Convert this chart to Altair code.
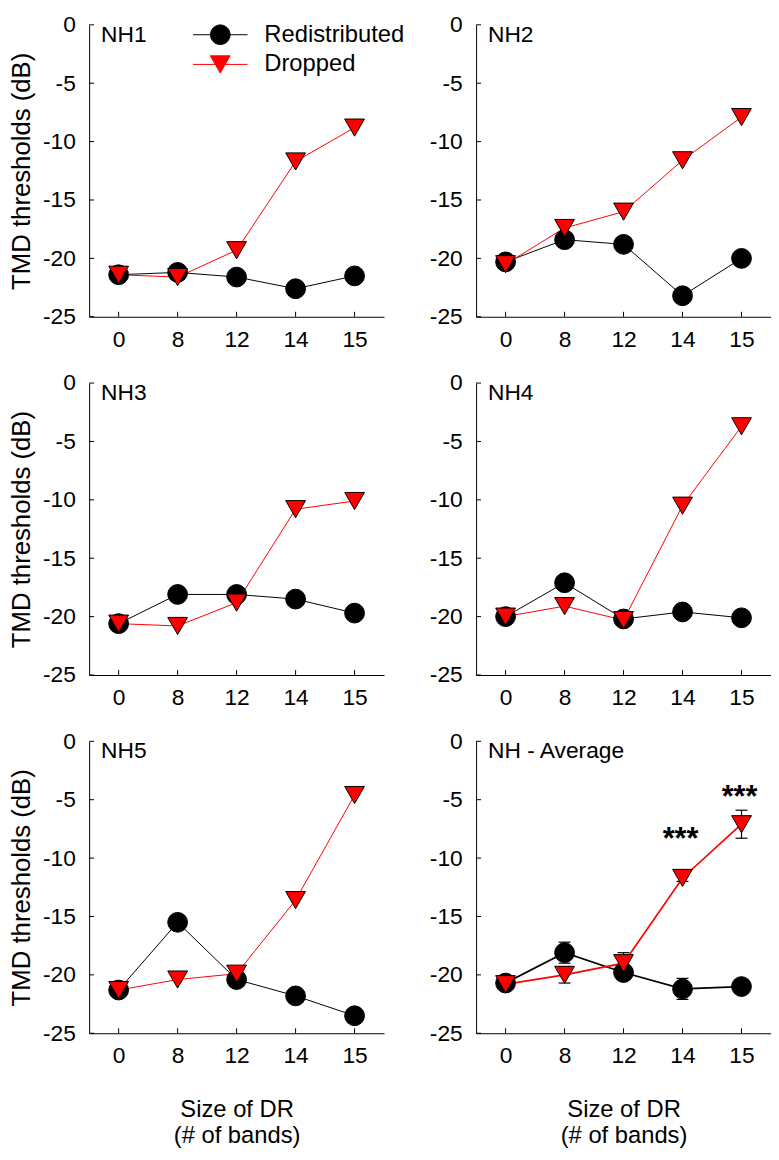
import altair as alt
import pandas as pd

FONT = "Liberation Sans"

bands = ["0", "8", "12", "14", "15"]
series_names = ["Redistributed", "Dropped"]
series_colors = ["black", "#ff0000"]
series_shapes = ["circle", "triangle-down"]
panel_names = ["NH1", "NH2", "NH3", "NH4", "NH5", "NH - Average"]
y_ticks = [0, -5, -10, -15, -20, -25]

nh1_redistributed = [-21.4, -21.2, -21.6, -22.6, -21.5]
nh1_dropped = [-21.4, -21.6, -19.3, -11.7, -8.8]
nh2_redistributed = [-20.3, -18.4, -18.8, -23.2, -20.0]
nh2_dropped = [-20.5, -17.4, -16.0, -11.6, -7.9]
nh3_redistributed = [-20.6, -18.1, -18.1, -18.5, -19.7]
nh3_dropped = [-20.6, -20.8, -18.8, -10.8, -10.1]
nh4_redistributed = [-20.0, -17.1, -20.2, -19.6, -20.1]
nh4_dropped = [-20.0, -19.1, -20.3, -10.5, -3.7]
nh5_redistributed = [-21.3, -15.5, -20.4, -21.8, -23.5]
nh5_dropped = [-21.3, -20.4, -19.9, -13.6, -4.6]
avg_redistributed = [-20.7, -18.1, -19.8, -21.2, -21.0]
avg_dropped = [-20.8, -20.0, -19.0, -11.7, -7.1]
avg_redistributed_err = [0.3, 0.9, 0.5, 0.9, 0.3]
avg_dropped_err = [0.3, 0.7, 0.9, 0.3, 1.2]

sig_bands = ["14", "15"]
sig_values = [-7.6, -4.0]
sig_text = ["***", "***"]

W, H = 298, 295
TICK_FS = 23

# legend symbols: a line segment with the series marker on it (unit path, scaled by Vega)
LEGEND_SHAPES = [
    "M-2.5,0H2.5M0.9,0A0.9,0.9 0 1 1 -0.9,0A0.9,0.9 0 1 1 0.9,0Z",
    "M-2.5,0H2.5M-0.91,-0.79L0.91,-0.79L0,0.79Z",
]


def make_panel(name, redis, drop, left, bottom, legend=False,
               redis_err=None, drop_err=None, sig=False):
    rows = []
    for s, vals, errs in ((series_names[0], redis, redis_err),
                          (series_names[1], drop, drop_err)):
        for i, b in enumerate(bands):
            row = {"band": b, "idx": i, "series": s, "value": vals[i]}
            if errs is not None:
                row["lo"] = vals[i] - errs[i]
                row["hi"] = vals[i] + errs[i]
            rows.append(row)
    df = pd.DataFrame(rows)
    is_avg = redis_err is not None
    lw = 1.7 if is_avg else 1.0

    xaxis = alt.Axis(
        title=["Size of DR", "(# of bands)"] if bottom else None,
        labelAngle=0, ticks=False, tickSize=0, labelPadding=12,
        titlePadding=30, titleLineHeight=26, titleFontSize=24,
        grid=False,
    )
    yaxis = alt.Axis(
        title="TMD thresholds (dB)" if left else None,
        values=y_ticks, labelExpr="'' + datum.value",
        ticks=False, tickSize=0, labelPadding=14,
        titlePadding=8, titleFontSize=26, grid=False,
    )
    xscale = alt.Scale(type="point", domain=bands, padding=0.5)
    yscale = alt.Scale(domain=[-25, 0], nice=False, zero=False)

    def X(field="band"):
        return alt.X(f"{field}:N", scale=xscale, axis=xaxis)

    def Y(field="value"):
        return alt.Y(f"{field}:Q", scale=yscale, axis=yaxis)

    base = alt.Chart(df)

    layers = []
    # inward ticks
    layers.append(
        alt.Chart(pd.DataFrame({"tick": y_ticks})).mark_rule(color="black", strokeWidth=1)
        .encode(y=Y("tick"), x=alt.value(0), x2=alt.value(5))
    )
    layers.append(
        alt.Chart(pd.DataFrame({"band": bands})).mark_rule(color="black", strokeWidth=1)
        .encode(x=X("band"), y=alt.value(H), y2=alt.value(H - 5))
    )
    # lines, one per series
    for s, c in zip(series_names, series_colors):
        layers.append(
            base.transform_filter(alt.datum.series == s)
            .mark_line(strokeWidth=lw, color=c)
            .encode(x=X(), y=Y(), order=alt.Order("idx:Q"))
        )
    if is_avg:
        layers.append(
            base.mark_rule(color="black", strokeWidth=1.2)
            .encode(x=X(), y=Y("lo"), y2="hi:Q")
        )
        for f in ("lo", "hi"):
            layers.append(
                base.mark_tick(color="black", thickness=1.2, size=12, opacity=1)
                .encode(x=X(), y=Y(f))
            )
    # markers, one layer per series
    for s, c, shp in zip(series_names, series_colors, series_shapes):
        layers.append(
            base.transform_filter(alt.datum.series == s)
            .mark_point(shape=shp, filled=True, size=400, fill=c,
                        stroke="black", strokeWidth=1, opacity=1)
            .encode(x=X(), y=Y())
        )
    if legend:
        leg = alt.Legend(
            orient="none", legendX=120.5, legendY=-2, title=None,
            symbolSize=484, symbolStrokeWidth=1, symbolOpacity=1,
            labelFont=FONT, labelFontSize=24, labelColor="black",
            labelOffset=32.5, rowPadding=6, padding=0,
        )
        # invisible layer that only feeds the legend
        layers.append(
            base.mark_point(filled=True, size=484, opacity=0, strokeWidth=1)
            .encode(
                x=X(), y=Y(),
                fill=alt.Fill("series:N", scale=alt.Scale(domain=series_names, range=series_colors), legend=leg),
                stroke=alt.Stroke("series:N", scale=alt.Scale(domain=series_names, range=series_colors), legend=leg),
                shape=alt.Shape("series:N", scale=alt.Scale(domain=series_names, range=LEGEND_SHAPES), legend=leg),
            )
        )
    layers.append(
        alt.Chart(pd.DataFrame({"label": [name]}))
        .mark_text(align="left", baseline="top", font=FONT, fontSize=23, color="black")
        .encode(x=alt.value(12), y=alt.value(-1), text="label:N")
    )
    if sig:
        sig_df = pd.DataFrame({"band": sig_bands, "y": sig_values, "text": sig_text})
        layers.append(
            alt.Chart(sig_df)
            .mark_text(align="center", baseline="middle", font=FONT, fontSize=31,
                       fontWeight="bold", color="black", dy=10, dx=-2)
            .encode(x=X("band"), y=Y("y"), text="text:N")
        )
    return alt.layer(*layers).properties(width=W, height=H)


p1 = make_panel(panel_names[0], nh1_redistributed, nh1_dropped, True, False, legend=True)
p2 = make_panel(panel_names[1], nh2_redistributed, nh2_dropped, False, False)
p3 = make_panel(panel_names[2], nh3_redistributed, nh3_dropped, True, False)
p4 = make_panel(panel_names[3], nh4_redistributed, nh4_dropped, False, False)
p5 = make_panel(panel_names[4], nh5_redistributed, nh5_dropped, True, True)
p6 = make_panel(panel_names[5], avg_redistributed, avg_dropped, False, True,
                redis_err=avg_redistributed_err, drop_err=avg_dropped_err, sig=True)

HS = 45
chart = alt.vconcat(
    alt.hconcat(p1, p2, spacing=HS),
    alt.hconcat(p3, p4, spacing=HS),
    alt.hconcat(p5, p6, spacing=HS),
    spacing=21,
).properties(
    padding={"left": 0, "top": 0, "right": 0, "bottom": 0}
).configure_view(
    stroke=None
).configure_axis(
    labelFont=FONT, labelFontSize=TICK_FS, labelColor="black",
    titleFont=FONT, titleColor="black", titleFontWeight="normal",
    domainColor="black", domainWidth=1,
)

chart.save("out.html", embed_options={"renderer": "svg", "actions": False})
